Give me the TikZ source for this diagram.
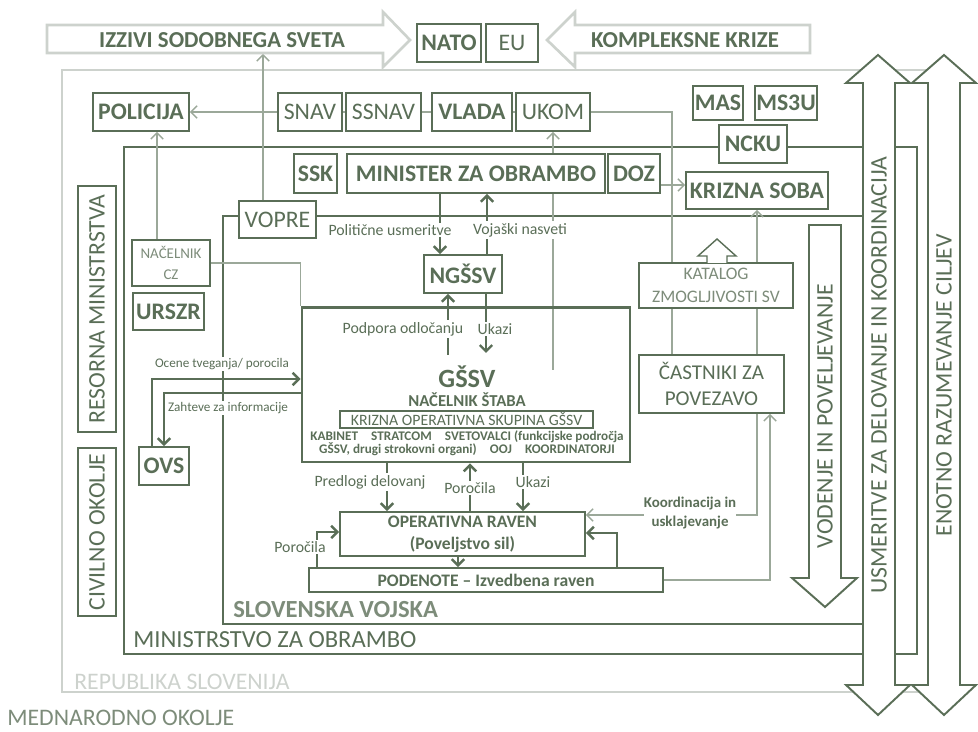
\documentclass[tikz,border=0pt]{standalone}
\usepackage{fontspec}
\setmainfont{Carlito}
\usetikzlibrary{arrows.meta}
\definecolor{dkgreen}{RGB}{90,110,87}
\definecolor{midgreen}{RGB}{125,140,122}
\definecolor{ltgreen}{RGB}{155,168,153}
\definecolor{pale}{RGB}{205,210,205}
\pgfdeclarelayer{background}
\pgfsetlayers{background,main}

\begin{document}
\begin{tikzpicture}[x=0.02cm, y=-0.02cm,
    wh/.style 2 args={minimum width=#1*0.02cm, minimum height=#2*0.02cm},
    box/.style={draw=dkgreen, line width=1.1pt, fill=white, inner sep=0pt, text=dkgreen, font=\fontsize{13.5}{15}\selectfont},
    bbox/.style={box, font=\fontsize{13.5}{15}\selectfont\bfseries},
    lbl/.style={fill=white, inner sep=1pt, text=dkgreen, font=\fontsize{9}{10}\selectfont},
    big/.style={text=dkgreen, inner sep=0pt, font=\fontsize{13.5}{15}\selectfont},
    arr/.style={-{Straight Barb[length=3.5pt,width=7pt]}},
    dk/.style={draw=dkgreen, line width=1.4pt},
    lite/.style={draw=ltgreen, line width=0.8pt},
    blk/.style={draw=dkgreen, line width=1.1pt, fill=white, line join=miter},
]
    \useasboundingbox (0,0) rectangle (978,732);

    % draw outer frames
    \begin{pgfonlayer}{background}
    \draw[pale, line width=1.1pt] (62,70) rectangle (940,692);
    \draw[dkgreen, line width=1.1pt] (124,147) rectangle (917,654);
    \draw[dkgreen, line width=1.6pt] (223,216) rectangle (880,624);
    \end{pgfonlayer}

    % draw top arrows
    \draw[pale, line width=1.5pt, fill=white] (47,25) -- (383,25) -- (383,12) -- (410,40) -- (383,67) -- (383,53) -- (47,53) -- cycle;
    \draw[pale, line width=1.5pt, fill=white] (810,25) -- (575,25) -- (575,12) -- (547,40) -- (575,67) -- (575,53) -- (810,53) -- cycle;
    \node[big, font=\fontsize{13}{15}\selectfont\bfseries] (izz) at (222,40) {IZZIVI SODOBNEGA SVETA};
    \node[big, font=\fontsize{13}{15}\selectfont\bfseries] (kom) at (685,40) {KOMPLEKSNE KRIZE};
    \coordinate (izzb) at (263,54);

    % draw boxes
    \node[bbox, wh={64}{38}] (nato) at (449,43) {NATO};
    \node[box, wh={52}{38}] (eu) at (512,43) {EU};
    \node[bbox, wh={96}{38}] (pol) at (141,112) {POLICIJA};
    \node[box, wh={64}{38}] (snav) at (310,112) {SNAV};
    \node[box, wh={75}{38}] (ssnav) at (383.5,112) {SSNAV};
    \node[bbox, wh={80}{38}] (vlada) at (472,112) {VLADA};
    \node[box, wh={74}{38}] (ukom) at (553,112) {UKOM};
    \node[bbox, wh={50}{34}] (mas) at (718,103) {MAS};
    \node[bbox, wh={62}{34}] (ms3u) at (786,103) {MS3U};
    \node[bbox, wh={68}{38}] (ncku) at (753,144) {NCKU};
    \node[bbox, wh={43}{39}] (ssk) at (315.5,173.5) {SSK};
    \node[bbox, wh={258}{39}] (min) at (476,173.5) {MINISTER ZA OBRAMBO};
    \node[bbox, wh={52}{39}] (doz) at (634,173.5) {DOZ};
    \node[bbox, wh={142}{37}] (ks) at (757,190.5) {KRIZNA SOBA};
    \node[box, wh={77}{37}] (vopre) at (277.5,219.5) {VOPRE};
    \node[bbox, wh={78}{38}] (ngssv) at (463,274) {NGŠSV};
    \node[box, wh={78}{46}, align=center, text=midgreen, font=\fontsize{8.5}{12}\selectfont] (nacz) at (171,263) {NAČELNIK\\CZ};
    \node[bbox, wh={71}{37}] (urszr) at (168.5,311.5) {URSZR};
    \node[box, wh={154}{45}, align=center, text=midgreen, font=\fontsize{10}{13}\selectfont] (kat) at (716,285.5) {KATALOG\\ZMOGLJIVOSTI SV};
    \node[box, wh={145}{58}, align=center, font=\fontsize{12}{15}\selectfont] (cast) at (711.5,384) {ČASTNIKI ZA\\POVEZAVO};
    \node[bbox, wh={50}{38}] (ovs) at (164,466) {OVS};
    \node[box, rotate=90, wh={246}{38}] (res) at (97,309) {RESORNA MINISTRSTVA};
    \node[box, rotate=90, wh={168}{38}] (civ) at (97,532) {CIVILNO OKOLJE};

    % draw GSSV
    \node[draw=dkgreen, line width=1.7pt, wh={328}{154}] (gssv) at (466,385) {};
    \node[big, font=\fontsize{15}{16}\selectfont\bfseries] (gt) at (467,377) {GŠSV};
    \node[big, font=\fontsize{9.5}{10}\selectfont\bfseries] (nst) at (467,400) {NAČELNIK ŠTABA};
    \node[box, line width=0.9pt, wh={253}{17}, font=\fontsize{9}{10}\selectfont] (kos) at (466.5,419.5) {KRIZNA OPERATIVNA SKUPINA GŠSV};
    \node[big, align=center, font=\fontsize{7.5}{7.5}\selectfont\bfseries] (kab) at (467,443.5) {KABINET\quad STRATCOM\quad SVETOVALCI (funkcijske področja\\GŠSV, drugi strokovni organi)\quad OOJ\quad KOORDINATORJI};
    \node[box, wh={245}{44}, align=center, font=\fontsize{10}{12.5}\selectfont\bfseries] (or) at (462.5,534) {OPERATIVNA RAVEN\\(Poveljstvo sil)};
    \node[box, wh={354}{24}, font=\fontsize{10}{12}\selectfont\bfseries] (pod) at (486,580) {PODENOTE -- Izvedbena raven};

    % draw catalog arrow
    \draw[blk, line width=0.8pt] (707,263) -- (707,256) -- (698,256) -- (717,239) -- (736,256) -- (727,256) -- (727,263);

    % draw side arrows
    \draw[blk] (863,83) -- (846,83) -- (878,55) -- (910,83) -- (895,83) -- (895,685) -- (910,685) -- (878,715) -- (846,685) -- (863,685) -- cycle;
    \draw[blk] (928,83) -- (912,83) -- (944,55) -- (976,83) -- (960,83) -- (960,685) -- (976,685) -- (944,715) -- (912,685) -- (928,685) -- cycle;
    \draw[blk] (809,225) -- (841,225) -- (841,578) -- (857,578) -- (825,607) -- (792,578) -- (809,578) -- cycle;
    \node[big, rotate=90] (usm) at (879,375) {USMERITVE ZA DELOVANJE IN KOORDINACIJA};
    \node[big, rotate=90] (eno) at (944,385) {ENOTNO RAZUMEVANJE CILJEV};
    \node[big, rotate=90] (vod) at (825,416) {VODENJE IN POVELJEVANJE};

    % frame labels
    \node[big, anchor=west, font=\fontsize{14}{15}\selectfont\bfseries, text=midgreen] (svl) at (233,610) {SLOVENSKA VOJSKA};
    \node[big, anchor=west, font=\fontsize{14}{15}\selectfont] (mol) at (133,640) {MINISTRSTVO ZA OBRAMBO};
    \node[big, anchor=west, text=pale] (rsl) at (74,682) {REPUBLIKA SLOVENIJA};
    \node[big, anchor=west, text=midgreen] (mok) at (7,718) {MEDNARODNO OKOLJE};

    % line labels
    \node[lbl] (lpu) at (390,230) {Politične usmeritve};
    \node[lbl] (lvn) at (520,230) {Vojaški nasveti};
    \node[lbl] (lpo) at (403,329) {Podpora odločanju};
    \node[lbl] (luk) at (495,329) {Ukazi};
    \node[lbl] (lpd) at (370,482) {Predlogi delovanj};
    \node[lbl] (lpc) at (470,488) {Poročila};
    \node[lbl] (luk2) at (533,482) {Ukazi};
    \node[lbl] (lpl) at (300,547) {Poročila};
    \node[lbl, align=center, inner sep=0pt, font=\fontsize{8.5}{11}\selectfont\bfseries] (lko) at (690,513) {Koordinacija in\\usklajevanje};
    \node[lbl, font=\fontsize{7.5}{8}\selectfont] (loc) at (222,364) {Ocene tveganja/ porocila};
    \node[lbl, font=\fontsize{7.5}{8}\selectfont] (lza) at (228,408) {Zahteve za informacije};

    % helper points
    \coordinate (xpol) at (157,0);
    \coordinate (gu) at (553,370);
    \coordinate (xuk) at (672,0);
    \coordinate (xoc) at (152,0);
    \coordinate (yoc) at (0,379);
    \coordinate (yza) at (0,393);
    \coordinate (xpu) at (440,0);
    \coordinate (xvn) at (487,0);
    \coordinate (pod1) at (448,355);
    \coordinate (uk1) at (486,353);
    \coordinate (xpd) at (387,0);
    \coordinate (xpc) at (470,0);
    \coordinate (xuk2) at (523,0);
    \coordinate (xop) at (458,0);
    \coordinate (xpl) at (317,0);
    \coordinate (ypl) at (0,532);
    \coordinate (xpr) at (617,0);
    \coordinate (ypr) at (0,533);
    \coordinate (yko) at (0,515);
    \coordinate (xcs) at (770,0);
    \coordinate (ydz) at (0,185);

    % draw connectors
    \begin{pgfonlayer}{background}
    \draw[lite, arr] (vopre.north -| izzb) -- (izzb);
    \draw[lite, arr] (snav) -- (pol);
    \draw[lite] (snav) -- (ssnav);
    \draw[lite] (ssnav) -- (vlada);
    \draw[lite] (vlada) -- (ukom);
    \draw[lite] (ukom.east) -| (cast.north -| xuk);
    \draw[lite, arr] (gu) -- (ukom.south);
    \draw[lite, arr] (nacz.north -| xpol) -- (pol.south -| xpol);
    \draw[lite] (nacz.east) -| (gssv.north west);
    \draw[dk, arr] (ovs.north -| xoc) |- (gssv.west |- yoc);
    \draw[dk, arr] (gssv.west |- yza) -| (ovs.north);
    \draw[dk, arr] (min.south -| xpu) -- (ngssv.north -| xpu);
    \draw[dk, arr] (ngssv.north -| xvn) -- (min.south -| xvn);
    \draw[dk, arr] (pod1) -- (ngssv.south -| pod1);
    \draw[dk, arr] (ngssv.south -| uk1) -- (uk1);
    \draw[dk, arr] (gssv.south -| xpd) -- (or.north -| xpd);
    \draw[dk, arr] (or.north -| xpc) -- (gssv.south -| xpc);
    \draw[dk, arr] (gssv.south -| xuk2) -- (or.north -| xuk2);
    \draw[dk, arr] (or.south -| xop) -- (pod.north -| xop);
    \draw[dk, arr] (pod.north -| xpl) |- (or.west |- ypl);
    \draw[dk, arr] (pod.north -| xpr) |- (or.east |- ypr);
    \draw[lite, {Straight Barb[length=3.5pt,width=7pt]}-{Straight Barb[length=3.5pt,width=7pt]}] (ks.south) |- (or.east |- yko);
    \draw[lite, arr] (pod.east) -| (cast.south -| xcs);
    \draw[lite, arr] (doz.east |- ydz) -- (ks.west |- ydz);
    \end{pgfonlayer}
\end{tikzpicture}
\end{document}
